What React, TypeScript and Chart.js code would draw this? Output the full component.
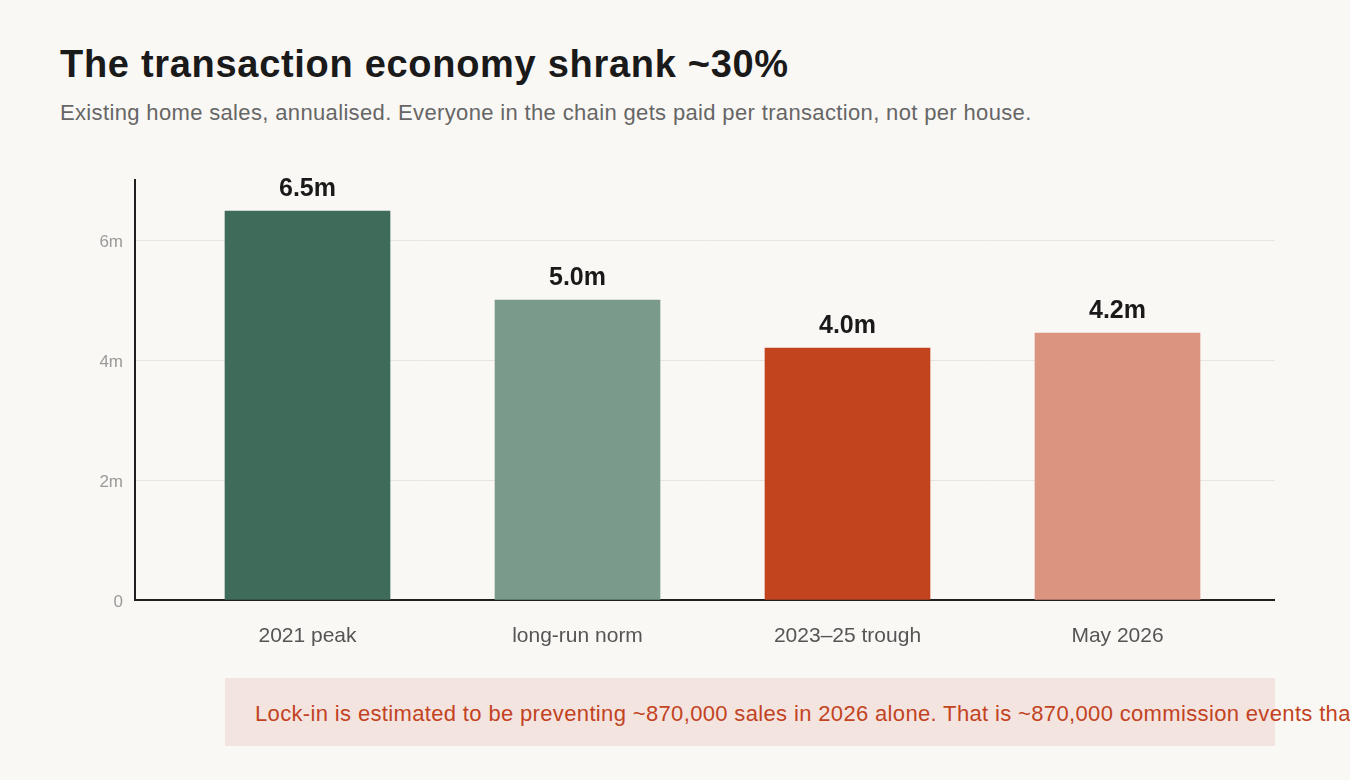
import { useEffect, useRef } from "react";
import Chart from "chart.js/auto";

const categories = ["2021 peak", "long-run norm", "2023–25 trough", "May 2026"];
const sales = [6.48, 5.0, 4.2, 4.45];
const valueLabels = ["6.5m", "5.0m", "4.0m", "4.2m"];
const barColors = ["#3f6b5a", "#7a9b8b", "#c1441f", "#db9480"];
const yTicks = [0, 2, 4, 6];

const FONT = '"Liberation Sans", Arial, Helvetica, sans-serif';
const BG = "#faf8f5";

const valueLabelPlugin = {
  id: "valueLabels",
  afterDatasetsDraw(chart: any) {
    const { ctx } = chart;
    const meta = chart.getDatasetMeta(0);
    ctx.save();
    ctx.font = `bold 25px ${FONT}`;
    ctx.fillStyle = "#1a1a1a";
    ctx.textAlign = "center";
    ctx.textBaseline = "alphabetic";
    meta.data.forEach((bar: any, i: number) => {
      ctx.fillText(valueLabels[i], bar.x, bar.y - 15);
    });
    ctx.restore();
  },
};

const SalesChart = () => {
  const canvasRef = useRef<HTMLCanvasElement>(null);

  useEffect(() => {
    if (!canvasRef.current) return;
    const ctx = canvasRef.current.getContext("2d");
    if (!ctx) return;

    const chart = new Chart(ctx, {
      type: "bar",
      data: {
        datasets: [
          {
            data: sales.map((v, i) => ({ x: i, y: v })),
            backgroundColor: barColors,
            barThickness: 165,
          },
        ],
      },
      options: {
        animation: false,
        responsive: true,
        maintainAspectRatio: false,
        layout: { padding: { top: 30, right: 0, left: 0, bottom: 0 } },
        plugins: {
          legend: { display: false },
          tooltip: { enabled: false },
        },
        scales: {
          x: {
            type: "linear",
            offset: false,
            min: -172.5 / 270,
            max: 3 + 157.5 / 270,
            grid: { display: false },
            border: { display: true, color: "#1f1f1f", width: 2 },
            afterBuildTicks: (axis: any) => {
              axis.ticks = categories.map((_, i) => ({ value: i }));
            },
            afterFit: (axis: any) => {
              axis.height = 60;
            },
            ticks: {
              autoSkip: false,
              maxRotation: 0,
              padding: 16,
              color: "#555555",
              font: { family: FONT, size: 21 },
              callback: (v: any) => categories[v] ?? "",
            },
          },
          y: {
            min: 0,
            max: 7,
            afterBuildTicks: (axis: any) => {
              axis.ticks = yTicks.map((v) => ({ value: v }));
            },
            afterFit: (axis: any) => {
              axis.width = 75;
            },
            grid: { color: "#e8e5df", lineWidth: 1, drawTicks: false },
            border: { display: true, color: "#1f1f1f", width: 2 },
            ticks: {
              padding: 12,
              labelOffset: 2,
              color: "#9a9a9a",
              font: { family: FONT, size: 17 },
              callback: (v: any) => (v === 0 ? "0" : `${v}m`),
            },
          },
        },
      },
      plugins: [valueLabelPlugin],
    });

    return () => chart.destroy();
  }, []);

  return (
    <div
      style={{ position: "absolute", left: 60, top: 150, width: 1215, height: 510 }}
    >
      <canvas ref={canvasRef}></canvas>
    </div>
  );
};

const App = () => {
  useEffect(() => {
    document.body.style.margin = "0";
    document.body.style.background = BG;
    document.body.style.overflow = "hidden";
  }, []);

  return (
    <div
      style={{
        position: "relative",
        width: 1350,
        height: 780,
        background: BG,
        overflow: "hidden",
        fontFamily: FONT,
      }}
    >
      <div
        style={{
          position: "absolute",
          left: 60,
          top: 45,
          fontSize: 38,
          lineHeight: "38px",
          letterSpacing: "0.7px",
          fontWeight: "bold",
          color: "#1a1a1a",
          whiteSpace: "nowrap",
        }}
      >
        The transaction economy shrank ~30%
      </div>
      <div
        style={{
          position: "absolute",
          left: 60,
          top: 102,
          fontSize: 22,
          lineHeight: "22px",
          letterSpacing: "0.35px",
          color: "#666666",
          whiteSpace: "nowrap",
        }}
      >
        Existing home sales, annualised. Everyone in the chain gets paid per
        transaction, not per house.
      </div>
      <SalesChart />
      <div
        style={{
          position: "absolute",
          left: 225,
          top: 678,
          width: 1050,
          height: 68,
          background: "#f4e4e0",
          display: "flex",
          alignItems: "center",
          boxSizing: "border-box",
          paddingLeft: 30,
          paddingTop: 3,
          overflow: "visible",
        }}
      >
        <span
          style={{
            fontSize: 22,
            letterSpacing: "0.35px",
            color: "#c2431f",
            whiteSpace: "nowrap",
          }}
        >
          Lock-in is estimated to be preventing ~870,000 sales in 2026 alone.
          That is ~870,000 commission events that did not happen.
        </span>
      </div>
    </div>
  );
};

export default App;
